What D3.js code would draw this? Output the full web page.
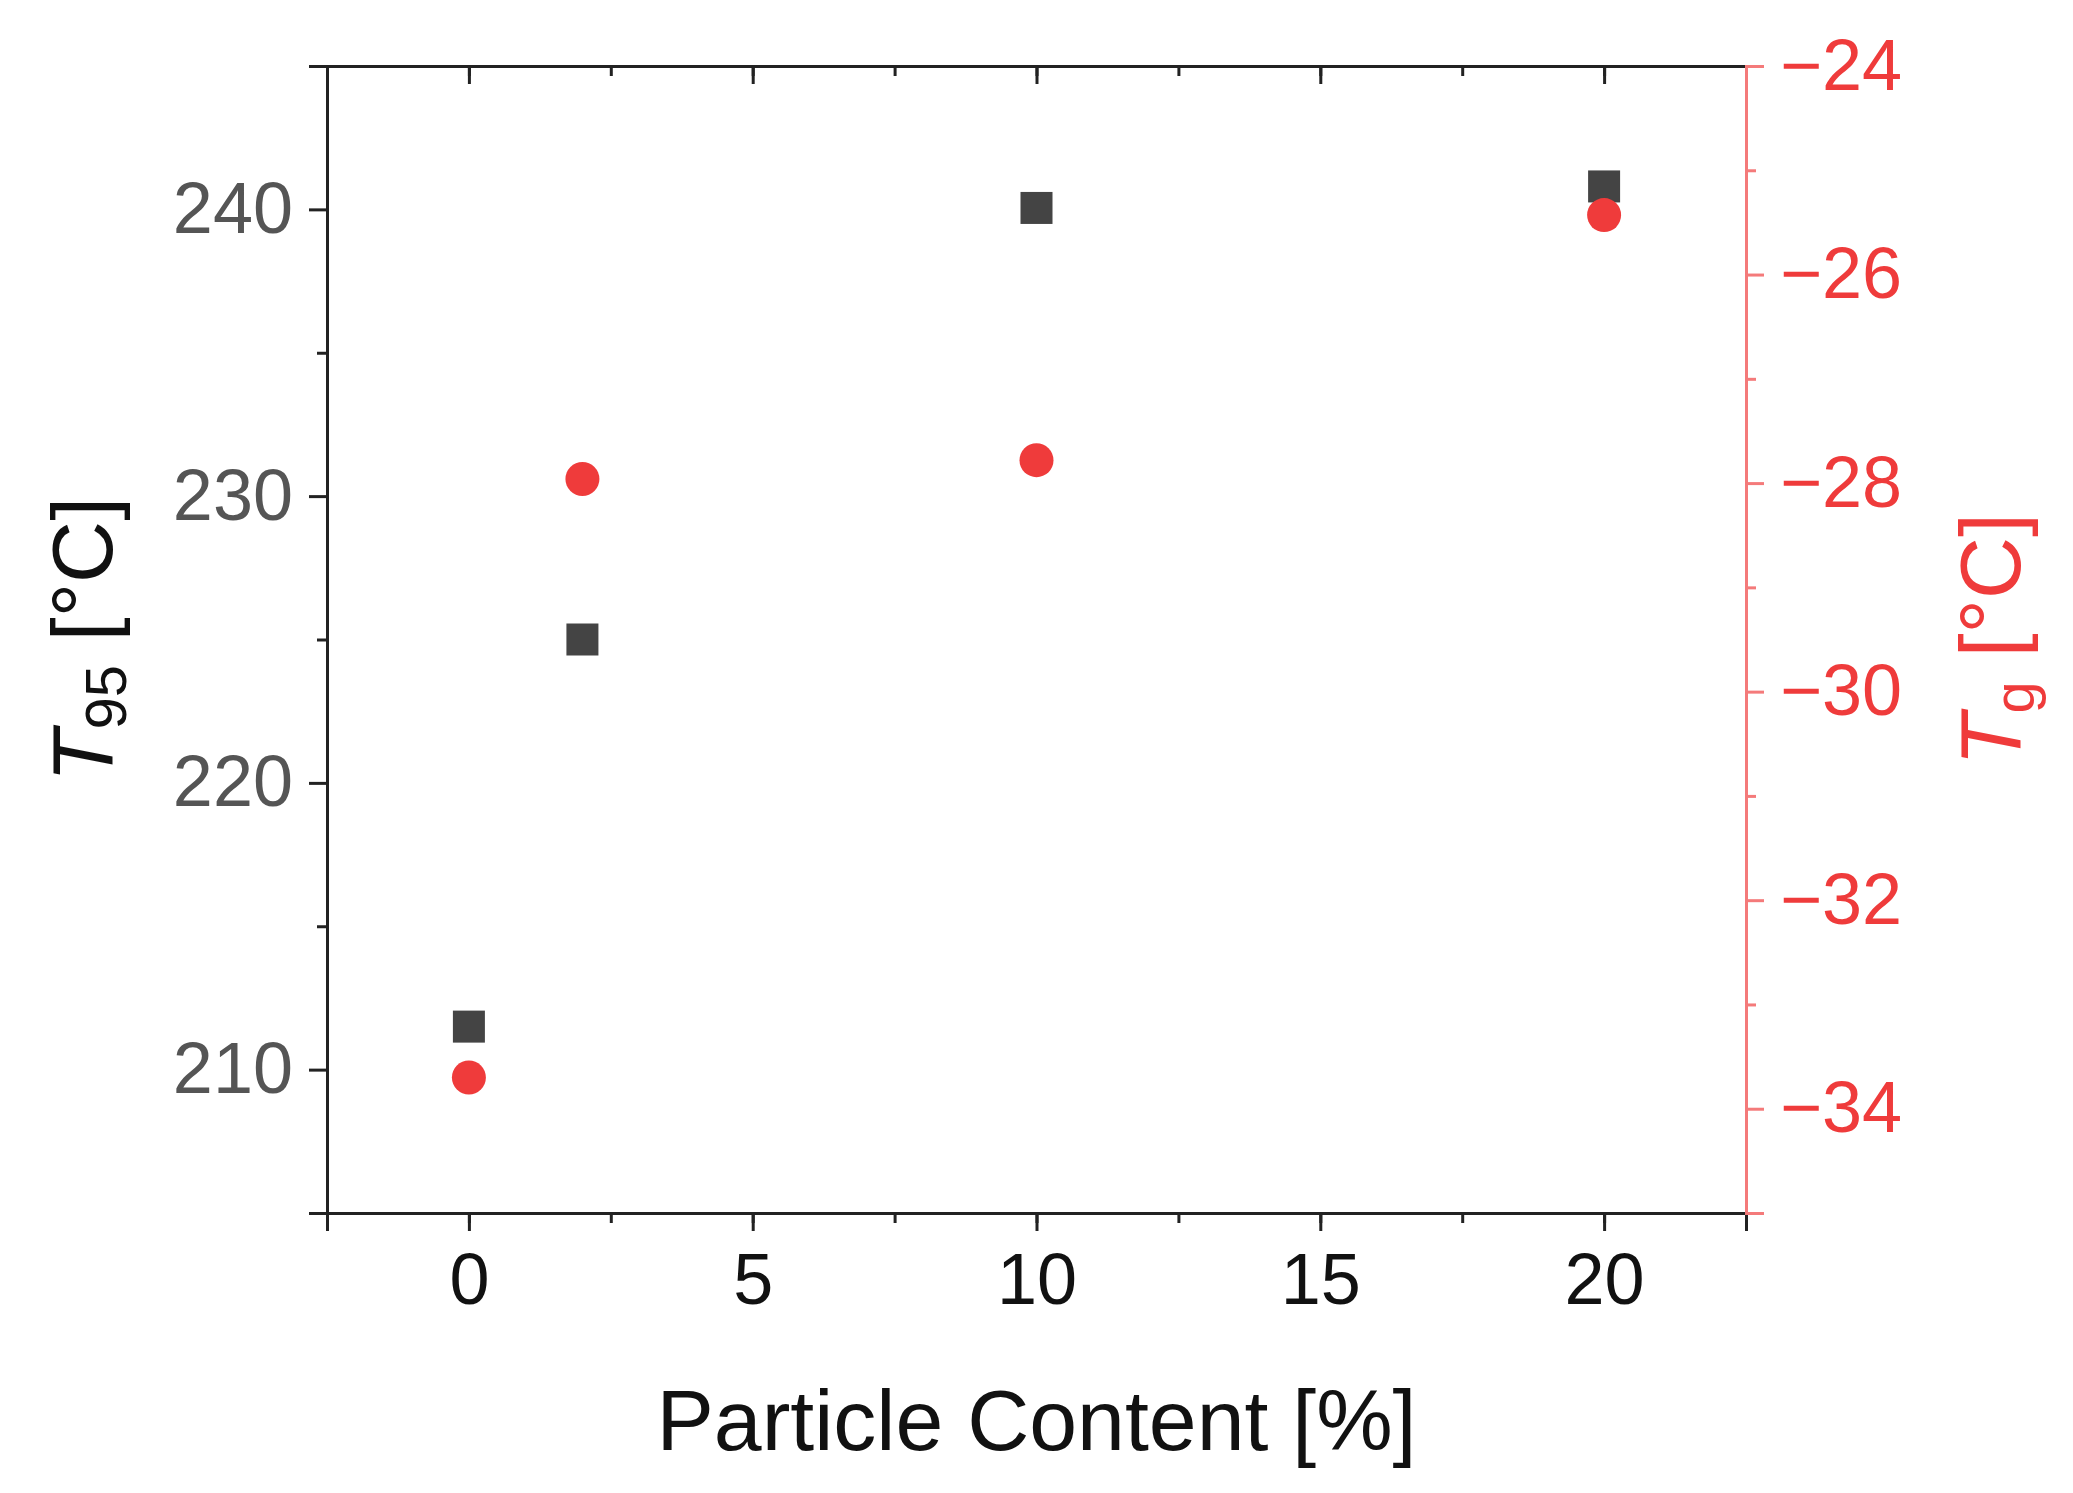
<!DOCTYPE html>
<html><head><meta charset="utf-8">
<script src="https://cdn.jsdelivr.net/npm/d3@7"></script>
<style>body{margin:0;background:#fff}</style>
</head><body>
<svg id="chart" width="2073" height="1493"></svg>
<script>
var particle = [0, 2, 10, 20];
var t95 = [211.5, 225.0, 240.05, 240.8];
var tg = [-33.7, -27.96, -27.78, -25.43];
var xTicks = [0, 5, 10, 15, 20];
var leftTicks = [210, 220, 230, 240];
var rightTicks = [-24, -26, -28, -30, -32, -34];

var svg = d3.select('#chart');
var L = 327, R = 1746, T = 66, B = 1213;
var red = '#ef3b3b';

var x = d3.scaleLinear().domain([-2.5, 22.5]).range([L, R]);
var yL = d3.scaleLinear().domain([205, 245]).range([B, T]);
var yR = d3.scaleLinear().domain([-35, -24]).range([B, T]);

function style(g, col, size) {
  g.select('.domain').attr('stroke', col).attr('stroke-width', 3);
  g.selectAll('line').attr('stroke', col).attr('stroke-width', 3);
  g.selectAll('text').attr('fill', col).style('font-family', 'Liberation Sans, Arial, sans-serif').style('font-size', size);
}

// minor ticks
var gxm = svg.append('g').attr('transform', 'translate(0,' + B + ')')
  .call(d3.axisBottom(x).tickValues(d3.range(-2.5, 23, 2.5)).tickSize(10).tickFormat(''));
style(gxm, '#222');
var gx = svg.append('g').attr('transform', 'translate(0,' + B + ')')
  .call(d3.axisBottom(x).tickValues(xTicks).tickSize(18).tickPadding(22).tickFormat(d3.format('d')));
style(gx, '#222', '72px');
gx.selectAll('text').attr('fill', '#111');

var gt = svg.append('g').attr('transform', 'translate(0,' + T + ')')
  .call(d3.axisTop(x).tickValues(xTicks).tickSize(-18).tickFormat(''));
style(gt, '#222');
var gtm = svg.append('g').attr('transform', 'translate(0,' + T + ')')
  .call(d3.axisTop(x).tickValues(d3.range(-2.5, 23, 2.5)).tickSize(-10).tickFormat(''));
style(gtm, '#222');

var gym = svg.append('g').attr('transform', 'translate(' + L + ',0)')
  .call(d3.axisLeft(yL).tickValues([205, 215, 225, 235, 245]).tickSize(10).tickFormat(''));
style(gym, '#222');
var gy = svg.append('g').attr('transform', 'translate(' + L + ',0)')
  .call(d3.axisLeft(yL).tickValues(leftTicks).tickSize(18).tickPadding(16));
style(gy, '#222', '72px');
gy.selectAll('text').attr('fill', '#555');

var grm = svg.append('g').attr('transform', 'translate(' + R + ',0)')
  .call(d3.axisRight(yR).tickValues([-25, -27, -29, -31, -33, -35]).tickSize(10).tickFormat(''));
style(grm, '#f47a7a');
var gr = svg.append('g').attr('transform', 'translate(' + R + ',0)')
  .call(d3.axisRight(yR).tickValues(rightTicks).tickSize(18).tickPadding(16)
    .tickFormat(function (d) { return '\u2212' + Math.abs(d); }));
style(gr, '#f47a7a', '72px');
gr.selectAll('text').attr('fill', red);

// square series
svg.append('g').selectAll('rect').data(particle).enter().append('rect')
  .attr('x', function (d) { return x(d) - 16; })
  .attr('y', function (d, i) { return yL(t95[i]) - 16; })
  .attr('width', 32).attr('height', 32).attr('fill', '#444');

// circle series
svg.append('g').selectAll('circle').data(particle).enter().append('circle')
  .attr('cx', function (d) { return x(d); })
  .attr('cy', function (d, i) { return yR(tg[i]); })
  .attr('r', 17).attr('fill', red);

// axis titles
var font = 'Liberation Sans, Arial, sans-serif';
svg.append('text').attr('x', (L + R) / 2).attr('y', 1450).attr('text-anchor', 'middle')
  .style('font-family', font).style('font-size', '86px').attr('fill', '#111')
  .text('Particle Content [%]');

var lt = svg.append('text').attr('transform', 'translate(112,' + (T + B) / 2 + ') rotate(-90)')
  .attr('text-anchor', 'middle').style('font-family', font).style('font-size', '86px').attr('fill', '#111');
lt.append('tspan').style('font-style', 'italic').text('T');
lt.append('tspan').attr('dy', 14).style('font-size', '58px').text('95');
lt.append('tspan').attr('dy', -14).text(' [°C]');

var rt = svg.append('text').attr('transform', 'translate(2020,' + (T + B) / 2 + ') rotate(-90)')
  .attr('text-anchor', 'middle').style('font-family', font).style('font-size', '86px').attr('fill', red);
rt.append('tspan').style('font-style', 'italic').text('T');
rt.append('tspan').attr('dy', 14).style('font-size', '58px').text('g');
rt.append('tspan').attr('dy', -14).text(' [°C]');
</script>
</body></html>
